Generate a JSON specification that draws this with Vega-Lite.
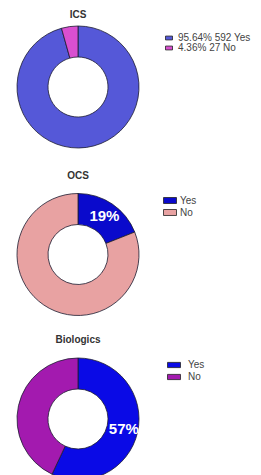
{
  "$schema": "https://vega.github.io/schema/vega-lite/v6.json",
  "background": "white",
  "padding": {"left": 5, "top": 10, "right": 5, "bottom": 0},
  "spacing": 17.5,
  "config": {
    "view": {"stroke": null},
    "title": {"fontSize": 10, "font": "Liberation Sans", "fontWeight": "bold", "color": "#333333"},
    "legend": {"labelFont": "Liberation Sans", "labelColor": "#444444", "symbolStrokeColor": "#222222", "symbolStrokeWidth": 0.8, "symbolOpacity": 1}
  },
  "resolve": {"scale": {"color": "independent", "theta": "independent"}, "legend": {"color": "independent"}},
  "vconcat": [
    {
      "width": 146,
      "height": 132,
      "title": {"text": "ICS", "offset": 1},
      "data": {"values": [
        {"cat": "95.64% 592 Yes", "value": 592, "order": 1},
        {"cat": "4.36% 27 No", "value": 27, "order": 2}
      ]},
      "mark": {"type": "arc", "outerRadius": 61, "innerRadius": 30, "stroke": "#1c1c30", "strokeWidth": 0.8},
      "encoding": {
        "theta": {"field": "value", "type": "quantitative", "stack": true},
        "order": {"field": "order", "type": "quantitative"},
        "color": {
          "field": "cat", "type": "nominal", "sort": null,
          "scale": {"domain": ["95.64% 592 Yes", "4.36% 27 No"], "range": ["#5558d8", "#d94fd0"]},
          "legend": {"title": null, "orient": "right", "offset": 1, "padding": 12, "rowPadding": -3, "labelFontSize": 10, "labelOffset": 4, "symbolType": "M-1,-0.55H1V0.55H-1Z", "symbolSize": 49}
        }
      }
    },
    {
      "width": 146,
      "height": 122,
      "title": {"text": "OCS", "offset": 11},
      "data": {"values": [
        {"cat": "Yes", "value": 19, "order": 1, "label": "19%"},
        {"cat": "No", "value": 81, "order": 2, "label": ""}
      ]},
      "layer": [
        {
          "mark": {"type": "arc", "outerRadius": 61, "innerRadius": 30, "stroke": "#1c1c30", "strokeWidth": 0.8},
          "encoding": {
            "theta": {"field": "value", "type": "quantitative", "stack": true},
            "order": {"field": "order", "type": "quantitative"},
            "color": {
              "field": "cat", "type": "nominal", "sort": null,
              "scale": {"domain": ["Yes", "No"], "range": ["#0a0acc", "#e8a2a2"]},
              "legend": {"title": null, "orient": "right", "offset": 12, "padding": 0, "rowPadding": -4, "labelFontSize": 10, "labelOffset": 3, "symbolType": "M-1,-0.46H1V0.46H-1Z", "symbolSize": 169}
            }
          }
        },
        {
          "mark": {"type": "text", "radius": 47, "fontSize": 15, "fontWeight": "bold", "font": "Liberation Sans", "fill": "white"},
          "encoding": {
            "theta": {"field": "value", "type": "quantitative", "stack": true},
            "order": {"field": "order", "type": "quantitative"},
            "text": {"field": "label", "type": "nominal"}
          }
        }
      ]
    },
    {
      "width": 146,
      "height": 122,
      "title": {"text": "Biologics", "offset": 11},
      "data": {"values": [
        {"cat": "Yes", "value": 57, "order": 1, "label": "57%"},
        {"cat": "No", "value": 43, "order": 2, "label": ""}
      ]},
      "layer": [
        {
          "mark": {"type": "arc", "outerRadius": 61, "innerRadius": 30, "stroke": "#1c1c30", "strokeWidth": 0.8},
          "encoding": {
            "theta": {"field": "value", "type": "quantitative", "stack": true},
            "order": {"field": "order", "type": "quantitative"},
            "color": {
              "field": "cat", "type": "nominal", "sort": null,
              "scale": {"domain": ["Yes", "No"], "range": ["#0a0ae6", "#a31aaf"]},
              "legend": {"title": null, "orient": "right", "offset": 16, "padding": 0, "rowPadding": -4, "labelFontSize": 10, "labelOffset": 7, "symbolType": "M-1,-0.4H1V0.4H-1Z", "symbolSize": 169}
            }
          }
        },
        {
          "mark": {"type": "text", "radius": 47, "fontSize": 15, "fontWeight": "bold", "font": "Liberation Sans", "fill": "white"},
          "encoding": {
            "theta": {"field": "value", "type": "quantitative", "stack": true},
            "order": {"field": "order", "type": "quantitative"},
            "text": {"field": "label", "type": "nominal"}
          }
        }
      ]
    }
  ]
}
